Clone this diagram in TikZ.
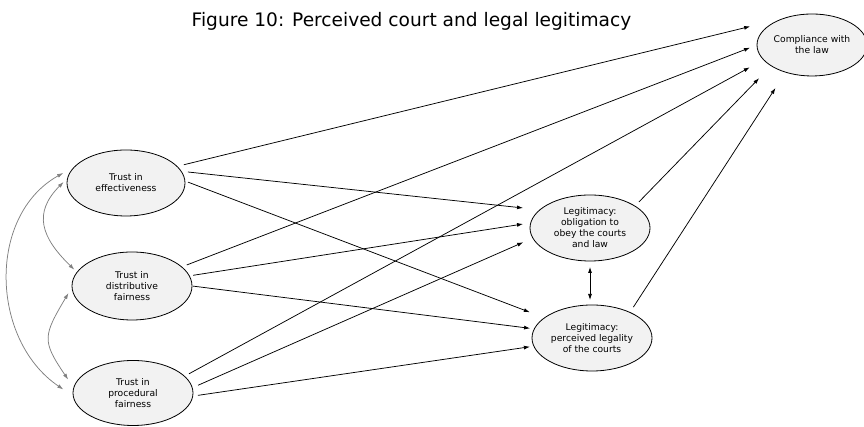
\documentclass[tikz,border=0pt]{standalone}
\usepackage{fontspec}
\setmainfont{DejaVu Sans}
\usetikzlibrary{arrows.meta,shapes.geometric}

\definecolor{boxfill}{HTML}{F2F2F2}
\definecolor{corrgray}{HTML}{808080}

\begin{document}
\begin{tikzpicture}[x=1pt,y=1pt,
  construct/.style={ellipse, draw=black, line width=0.8pt, fill=boxfill,
    inner sep=0pt, outer sep=0pt},
  lbl/.style={font=\fontsize{9.2}{11}\selectfont, align=center, inner sep=0pt},
  effect/.style={draw=black, line width=0.75pt, -{Latex[length=6pt,width=4pt]}},
  both/.style={draw=black, line width=0.75pt,
    {Latex[length=6pt,width=4pt]}-{Latex[length=6pt,width=4pt]}},
  corr/.style={draw=corrgray, line width=0.75pt,
    {Latex[length=6pt,width=4pt]}-{Latex[length=6pt,width=4pt]}},
]
\useasboundingbox (0,0) rectangle (864,427);

% title
\node[font=\fontsize{18.6}{20}\selectfont, inner sep=0pt] (title) at (411.5,406)
  {Figure 10: Perceived court and legal legitimacy};

% constructs
\node[construct, minimum width=118pt, minimum height=66pt,
  label={[lbl]center:{Trust in\\effectiveness}}] (eff) at (126,244) {};
\node[construct, minimum width=120pt, minimum height=68pt,
  label={[lbl]center:{Trust in\\distributive\\fairness}}] (dis) at (132,141) {};
\node[construct, minimum width=120pt, minimum height=65pt,
  label={[lbl]center:{Trust in\\procedural\\fairness}}] (proc) at (133,34) {};
\node[construct, minimum width=120pt, minimum height=66pt,
  label={[lbl]center:{Legitimacy:\\obligation to\\obey the courts\\and law}}] (obl) at (590,199) {};
\node[construct, minimum width=120pt, minimum height=66pt,
  label={[lbl]center:{Legitimacy:\\perceived legality\\of the courts}}] (per) at (592,89) {};
\node[construct, minimum width=110pt, minimum height=62pt,
  label={[lbl]center:{Compliance with\\the law}}] (comp) at (812,382) {};

% paths from the trust measures
\draw[effect, shorten <=7pt,   shorten >=36.6pt] (eff.18)  -- (comp.134);
\draw[effect, shorten <=6.8pt, shorten >=17pt]   (eff.12)  -- (obl.160);
\draw[effect, shorten <=3.3pt, shorten >=15.7pt] (eff.2)   -- (per.157);
\draw[effect, shorten <=5.5pt, shorten >=7.5pt]  (dis.21)  -- (comp.180);
\draw[effect, shorten <=3.9pt, shorten >=7.8pt]  (dis.10)  -- (obl.175);
\draw[effect, shorten <=1pt,   shorten >=4.3pt]  (dis.0)   -- (per.171);
\draw[effect, shorten <=5.2pt, shorten >=15.8pt] (proc.18) -- (comp.197);
\draw[effect, shorten <=6.4pt, shorten >=10.5pt] (proc.5)  -- (obl.190);
\draw[effect, shorten <=5.3pt, shorten >=4pt]    (proc.357) -- (per.188);

% paths from legitimacy to compliance
\draw[effect, shorten <=5.8pt, shorten >=17.3pt] (obl.26) -- (comp.207);
\draw[effect, shorten <=6.3pt, shorten >=18.8pt] (per.34) -- (comp.226);
\draw[both, shorten <=6pt, shorten >=5pt] (obl.south) -- (obl.south |- per.north);

% correlations among the trust measures
\draw[corr, shorten <=5.8pt, shorten >=3.8pt]
  (eff.175) .. controls +(-35,-35) and +(-36,35) .. (dis.166);
\draw[corr, shorten <=7pt, shorten >=10pt]
  (dis.181) .. controls +(-29,-49) and +(-32,47) .. (proc.175);
\draw[corr, shorten <=13.5pt, shorten >=12pt]
  (eff.162) .. controls +(-88,-49) and +(-83,56) .. (proc.183);
\end{tikzpicture}
\end{document}
